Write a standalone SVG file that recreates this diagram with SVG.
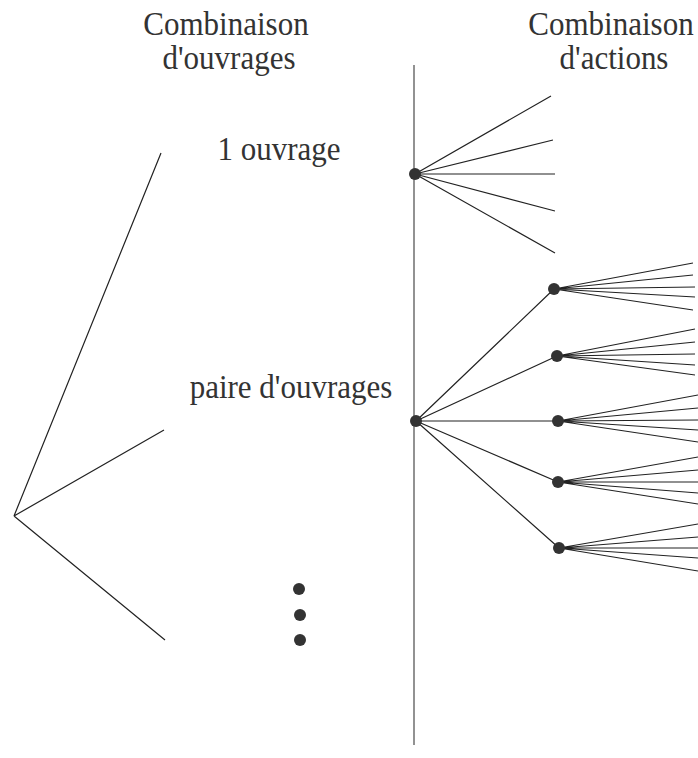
<svg xmlns="http://www.w3.org/2000/svg" width="698" height="758" viewBox="0 0 698 758">
<style>
text{font-family:"Liberation Serif","Times New Roman",serif;font-size:31px;fill:#333;text-anchor:middle}
.l{stroke:#222;stroke-width:1.2;fill:none}
.axis{stroke:#777;stroke-width:1.6}
.d{fill:#333}
</style>
<rect width="698" height="758" fill="#fff"/>
<g id="headers">
<text transform="translate(226,35) scale(1,1.06)">Combinaison</text>
<text transform="translate(229,69) scale(1,1.06)">d'ouvrages</text>
<text transform="translate(611,35) scale(1,1.06)">Combinaison</text>
<text transform="translate(614,69) scale(1,1.06)">d'actions</text>
</g>
<g id="connectors">
<line class="axis" x1="414" y1="65" x2="414" y2="745"/>
<path class="l" d="M14,516L161,153M14,516L164,430M14,516L165,640"/>
<path class="l" d="M415,174L551,96M415,174L553,140M415,174L555,174M415,174L555,211M415,174L555,253"/>
<path class="l" d="M416,421L554,289M416,421L557,356M416,421L558,421M416,421L558,482M416,421L559,548"/>
<path class="l" d="M554,289L693,263M554,289L693,275M554,289L695,287M554,289L695,297M554,289L693,310"/>
<path class="l" d="M557,356L695,329M557,356L695,342M557,356L695,354M557,356L695,365M557,356L695,375"/>
<path class="l" d="M558,421L698,395M558,421L698,408M558,421L698,420M558,421L698,430M558,421L698,442"/>
<path class="l" d="M558,482L698,457M558,482L698,470M558,482L698,482M558,482L698,493M558,482L698,504"/>
<path class="l" d="M559,548L698,524M559,548L698,537M559,548L698,548M559,548L698,558M559,548L698,571"/>
</g>
<g id="n1"><circle class="d" cx="415" cy="174" r="6"/><text transform="translate(279,160) scale(1,1.12)">1 ouvrage</text></g>
<g id="n2"><circle class="d" cx="416" cy="421" r="6"/><text transform="translate(291,398) scale(1,1.12)">paire d'ouvrages</text></g>
<g id="a1"><circle class="d" cx="554" cy="289" r="6"/></g>
<g id="a2"><circle class="d" cx="557" cy="356" r="6"/></g>
<g id="a3"><circle class="d" cx="558" cy="421" r="6"/></g>
<g id="a4"><circle class="d" cx="558" cy="482" r="6"/></g>
<g id="a5"><circle class="d" cx="559" cy="548" r="6"/></g>
<g id="ellipsis">
<circle class="d" cx="299" cy="589" r="6"/>
<circle class="d" cx="300" cy="615" r="6"/>
<circle class="d" cx="300" cy="640" r="6"/>
</g>
</svg>
